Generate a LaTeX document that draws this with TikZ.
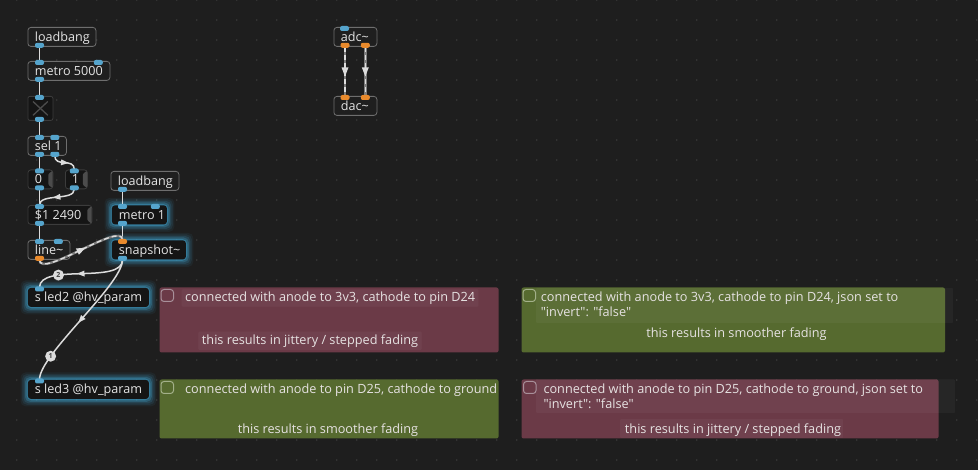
\documentclass[tikz,border=0pt]{standalone}
\usepackage{fontspec}
\setmainfont{Open Sans}[Ligatures=TeXOff]
\usetikzlibrary{arrows.meta,decorations.markings,calc}
\pgfdeclarelayer{bgl}
\pgfdeclarelayer{glowl}
\pgfsetlayers{bgl,glowl,main}
\definecolor{bgc}{HTML}{1E1E1E}
\definecolor{dotc}{HTML}{3A3A3A}
\definecolor{objborder}{HTML}{6E6E6E}
\definecolor{objfill}{HTML}{1F1F1F}
\definecolor{darkfill}{HTML}{151515}
\definecolor{msgborder}{HTML}{3C3C3C}
\definecolor{flagc}{HTML}{4C4C4C}
\definecolor{txtc}{HTML}{E4E4E4}
\definecolor{glowc}{HTML}{3FA6D2}
\definecolor{inl}{HTML}{55A4CC}
\definecolor{sigl}{HTML}{E98A2C}
\definecolor{wirec}{HTML}{DCDCDC}
\definecolor{sigbase}{HTML}{7C7C7C}
\definecolor{redc}{HTML}{6B3A47}
\definecolor{greenc}{HTML}{566A2F}
\definecolor{redchk}{HTML}{A8909A}
\definecolor{greenchk}{HTML}{A3B08A}
\definecolor{ctxt}{HTML}{E6E2E2}
\newcommand{\lbx}[2]{\makebox[#1][l]{#2}}
\newcommand{\tld}{\textasciitilde}
\newcommand{\qq}{\char34\relax}
\begin{document}
\begin{tikzpicture}[x=1pt,y=-1pt,
  obj/.style={rectangle, rounded corners=3pt, draw=objborder, fill=objfill, line width=0.8pt,
    inner xsep=7pt, inner ysep=0pt, minimum height=19pt, text height=10.5pt, text depth=1.5pt,
    anchor=north west, text=txtc, font=\fontsize{12.6}{14}\selectfont},
  gobj/.style={obj, draw=none, fill=darkfill},
  msgbox/.style={obj, draw=msgborder, fill=darkfill},
  togbox/.style={rectangle, rounded corners=2pt, draw=msgborder, fill=darkfill, line width=0.8pt,
    minimum width=25pt, minimum height=24pt, anchor=north west, inner sep=0pt},
  wire/.style={draw=wirec, line width=1.5pt},
  midarrow/.style={decoration={markings, mark=at position 0.5 with {\fill[wirec] (4,0) -- (-3.5,3) -- (-3.5,-3) -- cycle;}}, postaction={decorate}},
  bigarrow/.style={decoration={markings, mark=at position 0.5 with {\fill[wirec] (5,0) -- (-4,3.5) -- (-4,-3.5) -- cycle;}}, postaction={decorate}},
  sigwire/.style={draw=sigbase, line width=2.4pt, postaction={draw=wirec, line width=1.4pt, dash pattern=on 5pt off 3pt}},
  ordlabel/.style={circle, fill=wirec, inner sep=0pt, minimum size=11pt, text=black!75, font=\fontsize{7}{8}\selectfont\bfseries},
  inlet/.style={fill=inl, rounded corners=2pt},
  siginlet/.style={fill=sigl, rounded corners=2pt},
  chk/.style={rectangle, rounded corners=3pt, line width=1pt, minimum width=12.5pt, minimum height=12pt, inner sep=0pt, anchor=north west},
  ctext/.style={inner sep=0pt, text=ctxt, font=\fontsize{12.7}{14}\selectfont, text height=10pt, text depth=2pt},
  cbg/.style={fill=white, fill opacity=0.04, rounded corners=1pt}
]
\useasboundingbox (0,0) rectangle (978,470);
\begin{pgfonlayer}{bgl}
  \fill[bgc] (0,0) rectangle (978,470);
  \foreach \i in {0,...,48}{\foreach \j in {0,...,23}{\fill[dotc] (16.7+20*\i,20*\j) circle (0.9);}}
\end{pgfonlayer}

% ---------- comment panels ----------
\fill[redc, rounded corners=2pt] (159.5,287.5) rectangle (498.5,352.5);
\fill[cbg] (181.7,289.3) rectangle (478.3,306.7);
\fill[cbg] (198.3,331.7) rectangle (421.7,350);
\node[chk, draw=redchk] (chk1) at (160.5,289) {};
\node[ctext, anchor=west] (c1a) at (185,297.5) {connected with anode to 3v3, cathode to pin D24};
\node[ctext] (c1b) at (310,341) {this results in jittery / stepped fading};

\fill[greenc, rounded corners=2pt] (521.5,287.5) rectangle (945,352.5);
\fill[cbg] (536,288) rectangle (953,323);
\node[chk, draw=greenchk] (chk2) at (522.5,289) {};
\node[ctext, anchor=west] (c2a) at (540.7,297.5) {connected with anode to 3v3, cathode to pin D24, json set to};
\node[ctext, anchor=west] (c2b) at (540.7,312.3) {\qq invert\qq: \qq false\qq};
\node[ctext] (c2c) at (736.5,334) {this results in smoother fading};

\fill[greenc, rounded corners=2pt] (159.5,379.5) rectangle (498.5,438.5);
\node[chk, draw=greenchk] (chk3) at (160.5,381) {};
\node[ctext, anchor=west] (c3a) at (185,390) {connected with anode to pin D25, cathode to ground};
\node[ctext] (c3b) at (328,429.3) {this results in smoother fading};

\fill[redc, rounded corners=2pt] (521.5,379.5) rectangle (938.5,438.5);
\fill[cbg] (536,379.5) rectangle (955,413);
\fill[cbg] (620,419) rectangle (843,438);
\node[chk, draw=redchk] (chk4) at (523,381) {};
\node[ctext, anchor=west] (c4a) at (543.3,390) {connected with anode to pin D25, cathode to ground, json set to};
\node[ctext, anchor=west] (c4b) at (543.3,404.3) {\qq invert\qq: \qq false\qq};
\node[ctext] (c4c) at (733,429.3) {this results in jittery / stepped fading};

% ---------- objects ----------
\node[obj] (lb1) at (27.5,27) {\lbx{54pt}{loadbang}};
\node[obj] (m5000) at (27.5,61) {\lbx{68pt}{metro 5000}};
\node[togbox] (tog) at (27.5,96) {};
\draw[flagc, line width=1.3pt] ($(tog.north west)+(5.5,5.5)$) -- ($(tog.south east)+(-5.5,-5.5)$);
\draw[flagc, line width=1.3pt] ($(tog.north east)+(-5.5,5.5)$) -- ($(tog.south west)+(5.5,-5.5)$);
\node[obj] (sel) at (27.5,136) {\lbx{24.5pt}{sel 1}};
\node[msgbox] (msg0) at (27.5,169.5) {\lbx{11pt}{0}};
\node[msgbox, inner xsep=6.5pt] (msg1) at (65,169.5) {\lbx{9pt}{1}};
\node[msgbox] (msg2490) at (27.5,205) {\lbx{50pt}{\$1 2490}};
\node[obj] (line) at (27.5,240) {\lbx{28pt}{line\tld}};
\node[obj] (lb2) at (110.5,171) {\lbx{54pt}{loadbang}};
\node[gobj] (metro1) at (111.5,205) {\lbx{41pt}{metro 1}};
\node[gobj] (snap) at (111.5,240) {\lbx{60pt}{snapshot\tld}};
\node[gobj] (sled2) at (27.5,287.5) {\lbx{107pt}{s led2 @hv\_param}};
\node[gobj] (sled3) at (27.5,379.5) {\lbx{107pt}{s led3 @hv\_param}};
\node[obj] (adc) at (333.5,27) {\lbx{29pt}{adc\tld}};
\node[obj] (dac) at (333.5,96) {\lbx{29pt}{dac\tld}};

% message flags
\foreach \m in {msg0,msg1,msg2490}{
  \fill[flagc, rounded corners=1pt] ($(\m.north east)+(-0.8,1.2)$) -- ($(\m.north east)+(-5,4.5)$) -- ($(\m.south east)+(-5,-4.5)$) -- ($(\m.south east)+(-0.8,-1.2)$) -- cycle;
}

% glow
\begin{pgfonlayer}{glowl}
\foreach \n in {metro1,snap,sled2,sled3}{
  \foreach \d/\o in {7/0.07,5.5/0.1,4/0.16,2.5/0.26,1/0.4}{
    \fill[glowc, opacity=\o, rounded corners=5pt] ($(\n.north west)+(-\d,-\d)$) rectangle ($(\n.south east)+(\d,\d)$);
  }
}
\end{pgfonlayer}

% ---------- inlet / outlet coordinates ----------
\coordinate (lb1o) at ($(lb1.south west)+(12,0)$);
\coordinate (m5i) at ($(m5000.north west)+(12,0)$);
\coordinate (m5ir) at ($(m5000.north east)+(-12,0)$);
\coordinate (m5o) at ($(m5000.south west)+(12,0)$);
\coordinate (togi) at ($(tog.north west)+(12,0)$);
\coordinate (togo) at ($(tog.south west)+(12,0)$);
\coordinate (seli) at ($(sel.north west)+(12,0)$);
\coordinate (selir) at ($(sel.north east)+(-12,0)$);
\coordinate (selo) at ($(sel.south west)+(12,0)$);
\coordinate (selor) at ($(sel.south east)+(-12,0)$);
\coordinate (m0i) at ($(msg0.north west)+(12,0)$);
\coordinate (m0o) at ($(msg0.south west)+(12,0)$);
\coordinate (m1i) at ($(msg1.north west)+(9.3,0)$);
\coordinate (m1o) at ($(msg1.south west)+(9.3,0)$);
\coordinate (m2i) at ($(msg2490.north west)+(12,0)$);
\coordinate (m2o) at ($(msg2490.south west)+(12,0)$);
\coordinate (li) at ($(line.north west)+(12,0)$);
\coordinate (lir) at ($(line.north east)+(-12,0)$);
\coordinate (lo) at ($(line.south west)+(12,0)$);
\coordinate (lb2o) at ($(lb2.south west)+(12,0)$);
\coordinate (mt1i) at ($(metro1.north west)+(11,0)$);
\coordinate (mt1ir) at ($(metro1.north east)+(-12,0)$);
\coordinate (mt1o) at ($(metro1.south west)+(11,0)$);
\coordinate (sni) at ($(snap.north west)+(11,0)$);
\coordinate (sno) at ($(snap.south west)+(11,0)$);
\coordinate (s2i) at ($(sled2.north west)+(12,0)$);
\coordinate (s3i) at ($(sled3.north west)+(12,0)$);
\coordinate (adci) at ($(adc.north west)+(11,0)$);
\coordinate (adco) at ($(adc.south west)+(11.5,0)$);
\coordinate (adcor) at ($(adc.south east)+(-12,0)$);
\coordinate (daci) at ($(dac.north west)+(11.5,0)$);
\coordinate (dacir) at ($(dac.north east)+(-12,0)$);

% ---------- connections ----------
\draw[wire] (lb1o) -- (m5i);
\draw[wire] (m5o) -- (togi);
\draw[wire] (togo) -- (seli);
\draw[wire] (selo) -- (m0i);
\draw[wire] (m0o) -- (m2i);
\draw[wire] (m2o) -- (li);
\draw[wire] (lb2o) -- (mt1i);
\draw[wire] (mt1o) -- (sni);
\draw[wire, midarrow] (selor) .. controls ($(selor)+(0,12)$) and ($(m1i)+(0,-12)$) .. (m1i);
\draw[wire, midarrow] (m1o) .. controls ($(m1o)+(0,12)$) and ($(m2i)+(0,-12)$) .. (m2i);
\draw[sigwire, bigarrow] (lo) .. controls ($(lo)+(0,20)$) and ($(sni)+(0,-20)$) .. (sni);
\draw[wire, midarrow] (sno) .. controls ($(sno)+(0,25)$) and ($(s2i)+(0,-25)$) .. (s2i) node[pos=0.69, ordlabel] (ord2) {2};
\draw[wire, midarrow] (sno) .. controls ($(sno)+(0,25)$) and ($(s3i)+(0,-25)$) .. (s3i) node[pos=0.77, ordlabel] (ord1) {1};
\draw[sigwire, bigarrow] (adco) -- (daci);
\draw[sigwire, bigarrow] (adcor) -- (dacir);

% ---------- inlets / outlets ----------
\foreach \c in {m5i,m5ir,togi,seli,selir,m0i,m1i,m2i,li,lir,mt1i,mt1ir,s2i,s3i,adci}{
  \fill[inlet] ($(\c)+(-4.5,-1)$) rectangle ($(\c)+(4.5,4)$);
}
\foreach \c in {lb1o,m5o,togo,selo,selor,m0o,m1o,m2o,lb2o,mt1o,sno}{
  \fill[inlet] ($(\c)+(-4.5,-4)$) rectangle ($(\c)+(4.5,1)$);
}
\foreach \c in {sni,daci,dacir}{
  \fill[siginlet] ($(\c)+(-4.5,-1)$) rectangle ($(\c)+(4.5,4)$);
}
\foreach \c in {lo,adco,adcor}{
  \fill[siginlet] ($(\c)+(-4.5,-4)$) rectangle ($(\c)+(4.5,1)$);
}
\end{tikzpicture}
\end{document}
